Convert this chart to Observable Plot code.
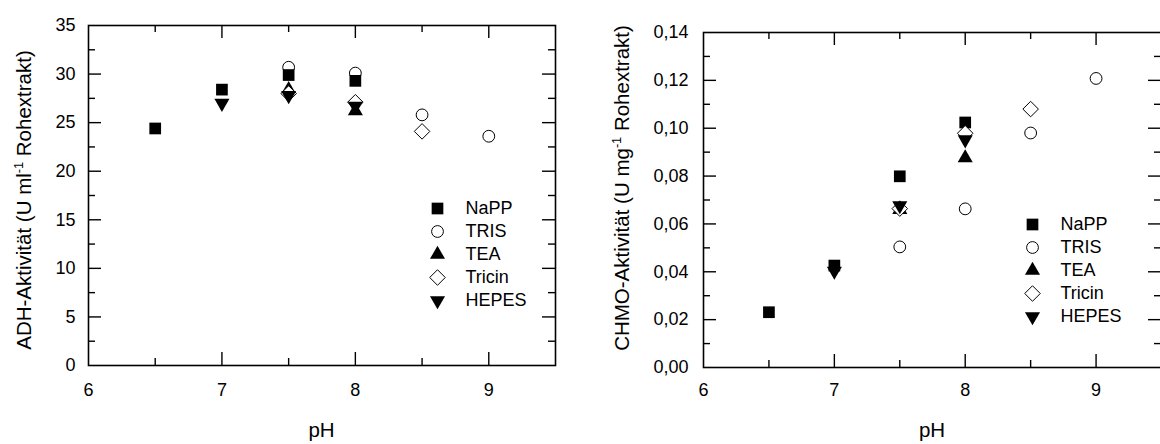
<!DOCTYPE html>
<html><head><meta charset="utf-8">
<script src="https://cdn.jsdelivr.net/npm/d3@7"></script>
<script src="https://cdn.jsdelivr.net/npm/@observablehq/plot@0.6"></script>
<style>
html,body{margin:0;padding:0;background:#fff;overflow:hidden}
#wrap{position:relative;width:1160px;height:444px;overflow:hidden;background:#fff}
#wrap > *{position:absolute}
</style></head><body><div id="wrap"></div>
<script>
// ---- data ----
const series = ["NaPP", "TRIS", "TEA", "Tricin", "HEPES"];

// ADH activity (U ml^-1 crude extract), left panel
const adhPH_NaPP = [6.5, 7, 7.5, 8];       const adh_NaPP = [24.4, 28.4, 29.9, 29.3];
const adhPH_TRIS = [7.5, 8, 8.5, 9];       const adh_TRIS = [30.7, 30.1, 25.8, 23.6];
const adhPH_TEA = [7.5, 8];                const adh_TEA = [28.4, 26.2];
const adhPH_Tricin = [7.5, 8, 8.5];        const adh_Tricin = [28.0, 27.1, 24.1];
const adhPH_HEPES = [7, 7.5, 8];           const adh_HEPES = [27.0, 27.8, 26.7];

// CHMO activity (U mg^-1 crude extract), right panel
const chmoPH_NaPP = [6.5, 7, 7.5, 8];      const chmo_NaPP = [0.0231, 0.0426, 0.0799, 0.1024];
const chmoPH_TRIS = [7.5, 8, 8.5, 9];      const chmo_TRIS = [0.0504, 0.0663, 0.0980, 0.1208];
const chmoPH_TEA = [7.5, 8];               const chmo_TEA = [0.0660, 0.0876];
const chmoPH_Tricin = [7.5, 8, 8.5];       const chmo_Tricin = [0.0664, 0.0979, 0.1080];
const chmoPH_HEPES = [7, 7.5, 8];          const chmo_HEPES = [0.0403, 0.0677, 0.0952];

// ticks
const xLabels = [6, 7, 8, 9];
const xMajor = [7, 8, 9];
const xMinor = [6.5, 7.5, 8.5];
const adhLabels = [0, 5, 10, 15, 20, 25, 30, 35];
const adhMajor = [5, 10, 15, 20, 25, 30];
const adhMinor = [2.5, 7.5, 12.5, 17.5, 22.5, 27.5, 32.5];
const chmoLabels = [0, 0.02, 0.04, 0.06, 0.08, 0.10, 0.12, 0.14];
const chmoMajor = [0.02, 0.04, 0.06, 0.08, 0.10, 0.12];
const chmoMinor = [0.01, 0.03, 0.05, 0.07, 0.09, 0.11, 0.13];

// ---- styles ----
const FONT = "'Liberation Sans', Arial, sans-serif";
const downTriangle = {
  draw(context, size) {
    const y = -Math.sqrt(size / (Math.sqrt(3) * 3));
    context.moveTo(0, -y * 2);
    context.lineTo(-Math.sqrt(3) * y, y);
    context.lineTo(Math.sqrt(3) * y, y);
    context.closePath();
  }
};
const symStyle = {
  NaPP:   {symbol: "square",   r: 6.6, fill: "black", stroke: "none"},
  TRIS:   {symbol: "circle",   r: 5.9, fill: "none",  stroke: "black", strokeWidth: 1},
  TEA:    {symbol: "triangle", r: 5.6, fill: "black", stroke: "none"},
  Tricin: {symbol: "diamond2", r: 7.0, fill: "white", stroke: "black", strokeWidth: 1},
  HEPES:  {symbol: downTriangle, r: 5.6, fill: "black", stroke: "none"}
};

function dotsFor(phs, vals) {
  return series.map((s, i) => {
    const rows = phs[i].map((p, j) => ({ph: p, v: vals[i][j]}));
    return Plot.dot(rows, {x: "ph", y: "v", ...symStyle[s]});
  });
}

function panel(o) {
  const fw = o.width - o.ml - o.mr, fh = 444 - o.mt - o.mb;
  const L = 13, S = 7;
  const tk = {stroke: "black", strokeWidth: 1.4};
  return Plot.plot({
    width: o.width, height: 444,
    marginLeft: o.ml, marginRight: o.mr, marginTop: o.mt, marginBottom: o.mb,
    x: {domain: [6, 9.5]},
    y: {domain: o.yDomain},
    style: {fontFamily: FONT, fontSize: "18px", color: "black", background: "white", overflow: "visible"},
    marks: [
      Plot.tickX(xMajor, {x: d => d, insetTop: fh - L, ...tk}),
      Plot.tickX(xMinor, {x: d => d, insetTop: fh - S, ...tk}),
      Plot.tickX(xMajor, {x: d => d, insetBottom: fh - L, ...tk}),
      Plot.tickX(xMinor, {x: d => d, insetBottom: fh - S, ...tk}),
      Plot.tickY(o.yMajor, {y: d => d, insetRight: fw - L, ...tk}),
      Plot.tickY(o.yMinor, {y: d => d, insetRight: fw - S, ...tk}),
      Plot.tickY(o.yMajor, {y: d => d, insetLeft: fw - L, ...tk}),
      Plot.tickY(o.yMinor, {y: d => d, insetLeft: fw - S, ...tk}),
      Plot.axisX({ticks: xLabels, tickSize: 0, tickPadding: o.xPad, label: null, fontSize: 18, tickFormat: d => String(d)}),
      Plot.axisY({ticks: o.yLabels, tickSize: 0, tickPadding: o.yPad, label: null, fontSize: 18, tickFormat: o.fmt}),
      ...o.dots,
      Plot.frame({stroke: "black", strokeWidth: 1.6})
    ]
  });
}

function addTitles(svg, t) {
  const s = d3.select(svg);
  const yt = s.append("text")
    .attr("transform", `translate(${t.yx},${t.yy}) rotate(-90)`)
    .attr("text-anchor", "middle")
    .attr("font-family", FONT).attr("font-size", t.size).attr("fill", "black");
  yt.append("tspan").text(t.yPre);
  yt.append("tspan").attr("font-size", t.size * 0.62).attr("dy", -t.size * 0.38).text("-1");
  yt.append("tspan").attr("dy", t.size * 0.38).text(t.yPost);
  s.append("text").attr("x", t.xx).attr("y", t.xy)
    .attr("text-anchor", "middle")
    .attr("font-family", FONT).attr("font-size", t.size).attr("fill", "black")
    .text("pH");
}

function legend() {
  const marks = series.map(s => Plot.dot([s], {y: d => d, frameAnchor: "left", dx: 17, ...symStyle[s]}));
  marks.push(Plot.text(series, {y: d => d, text: d => d, frameAnchor: "left", dx: 45, textAnchor: "start", fontSize: 18}));
  return Plot.plot({
    width: 130, height: 115, margin: 0,
    y: {type: "point", domain: series, axis: null, padding: 0.5},
    style: {fontFamily: FONT, fontSize: "18px", color: "black", background: "transparent", overflow: "visible"},
    marks
  });
}

const wrap = document.getElementById("wrap");

const left = panel({
  width: 580, ml: 88, mr: 25, mt: 25, mb: 79,
  yDomain: [0, 35], yLabels: adhLabels, yMajor: adhMajor, yMinor: adhMinor,
  fmt: d => String(d), xPad: 18, yPad: 13,
  dots: dotsFor([adhPH_NaPP, adhPH_TRIS, adhPH_TEA, adhPH_Tricin, adhPH_HEPES],
                [adh_NaPP, adh_TRIS, adh_TEA, adh_Tricin, adh_HEPES])
});
left.style.left = "0px"; left.style.top = "0px";
addTitles(left, {size: 20.5, yx: 31, yy: 200, yPre: "ADH-Aktivität (U ml", yPost: " Rohextrakt)", xx: 321.5, xy: 437});
wrap.appendChild(left);

const right = panel({
  width: 582, ml: 123, mr: 1, mt: 32, mb: 77,
  yDomain: [0, 0.14], yLabels: chmoLabels, yMajor: chmoMajor, yMinor: chmoMinor,
  fmt: d => d.toFixed(2).replace(".", ","), xPad: 16, yPad: 15,
  dots: dotsFor([chmoPH_NaPP, chmoPH_TRIS, chmoPH_TEA, chmoPH_Tricin, chmoPH_HEPES],
                [chmo_NaPP, chmo_TRIS, chmo_TEA, chmo_Tricin, chmo_HEPES])
});
right.style.left = "580px"; right.style.top = "0px";
addTitles(right, {size: 20.5, yx: 49, yy: 188, yPre: "CHMO-Aktivität (U mg", yPost: " Rohextrakt)", xx: 352, xy: 437});
wrap.appendChild(right);

const lg1 = legend();
lg1.style.left = "420px"; lg1.style.top = "195.5px";
wrap.appendChild(lg1);
const lg2 = legend();
lg2.style.left = "1015px"; lg2.style.top = "211.5px";
wrap.appendChild(lg2);
</script>
</body></html>
